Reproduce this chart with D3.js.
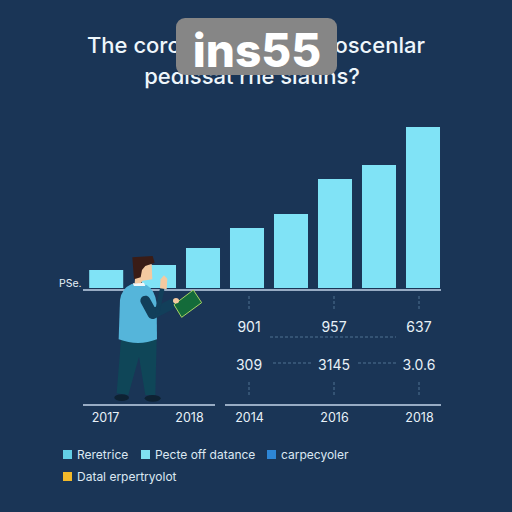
<!DOCTYPE html>
<html>
<head>
<meta charset="utf-8">
<script src="https://cdn.jsdelivr.net/npm/d3@7"></script>
<style>
  html, body { margin: 0; padding: 0; background: #1a3556; }
  svg { display: block; font-family: "Inter", "Open Sans", sans-serif; }
</style>
</head>
<body>
<svg width="512" height="512"></svg>
<script>
// values
var titleStart = "The corc";
var titleEnd = "noscenlar";
var titleLine2 = "pedissat rhe siatins?";
var barPeriods = [0.8, 2, 3, 4, 5, 6, 7, 8];
var barValues = [18, 23, 40, 60, 74, 109, 123, 161];
var leftYears = ["2017", "2018"];
var rightYears = ["2014", "2016", "2018"];
var readingsTop = ["901", "957", "637"];
var readingsBottom = ["309", "3145", "3.0.6"];
var legendRow1 = ["Reretrice", "Pecte off datance", "carpecyoler"];
var legendRow2 = ["Datal erpertryolot"];
var legendColors1 = ["#62cfe6", "#7fe0f2", "#2d86d6"];
var legendColors2 = ["#f2b92a"];

var svg = d3.select("svg");
var lineColor = "#c3d5ea", textColor = "#e8f1f8";

var x = d3.scaleLinear().domain([1, 9]).range([115, 467]);
var y = d3.scaleLinear().domain([0, 161]).range([288, 127]);
var barWidth = (x(2) - x(1)) * 0.773;
var xLeft = d3.scalePoint().domain(leftYears).range([105, 189]);
var xRight = d3.scalePoint().domain(rightYears).range([249, 419]);

// title, the middle of the first line sits behind the watermark
function titleText(str, px, py, anchor) {
    svg.append("text")
        .attr("x", px).attr("y", py)
        .attr("text-anchor", anchor)
        .attr("font-size", 22)
        .attr("font-weight", 500)
        .attr("fill", "#eef6fb")
        .text(str);
}
titleText(titleStart, 87, 53, "start");
titleText(titleEnd, 425, 53, "end");
titleText(titleLine2, 252, 84, "middle");

// bars
svg.selectAll(".bar")
    .data(barValues)
    .enter().append("rect")
    .attr("class", "bar")
    .attr("x", function(d, i) { return x(barPeriods[i]) - barWidth / 2; })
    .attr("y", function(d) { return y(d); })
    .attr("width", barWidth)
    .attr("height", function(d) { return y(0) - y(d); })
    .attr("fill", "#80e3f6");

// upper baseline and left label
svg.append("line")
    .attr("x1", 83).attr("x2", 441).attr("y1", 290).attr("y2", 290)
    .attr("stroke", lineColor).attr("stroke-width", 1.5);
svg.append("text")
    .attr("x", 59).attr("y", 287)
    .attr("font-size", 10.5)
    .attr("fill", textColor)
    .text("PSe.");

// lower axis, two pieces
function drawAxis(scale, x1, x2) {
    var g = svg.append("g").attr("transform", "translate(0,405)");
    g.call(d3.axisBottom(scale).tickSize(0).tickPadding(8));
    g.select(".domain").remove();
    g.selectAll("text")
        .attr("font-size", 12.5)
        .attr("font-family", "Inter, 'Open Sans', sans-serif")
        .attr("fill", textColor);
    g.append("line")
        .attr("x1", x1).attr("x2", x2)
        .attr("stroke", lineColor).attr("stroke-width", 1.5);
}
drawAxis(xLeft, 83, 215);
drawAxis(xRight, 225, 441);

// dashed guides
var dash = "#4f7391";
rightYears.forEach(function(d) {
    [[296, 310], [382, 395]].forEach(function(span) {
        svg.append("line")
            .attr("x1", xRight(d)).attr("x2", xRight(d))
            .attr("y1", span[0]).attr("y2", span[1])
            .attr("stroke", dash).attr("stroke-dasharray", "3,2");
    });
});
[[270, 396, 337], [273, 312, 363], [358, 396, 363]].forEach(function(s) {
    svg.append("line")
        .attr("x1", s[0]).attr("x2", s[1]).attr("y1", s[2]).attr("y2", s[2])
        .attr("stroke", dash).attr("stroke-dasharray", "3,2");
});

// readings
[[readingsTop, 332], [readingsBottom, 370]].forEach(function(row) {
    svg.selectAll(null)
        .data(row[0])
        .enter().append("text")
        .attr("x", function(d, i) { return xRight(rightYears[i]); })
        .attr("y", row[1])
        .attr("text-anchor", "middle")
        .attr("font-size", 14)
        .attr("fill", textColor)
        .text(function(d) { return d; });
});

// legend
function drawLegend(labels, colors, xs, rowY) {
    labels.forEach(function(d, i) {
        svg.append("rect")
            .attr("x", xs[i]).attr("y", rowY)
            .attr("width", 9).attr("height", 9)
            .attr("fill", colors[i]);
        svg.append("text")
            .attr("x", xs[i] + 14).attr("y", rowY + 9)
            .attr("font-size", 12)
            .attr("fill", "#dce8f2")
            .text(d);
    });
}
drawLegend(legendRow1, legendColors1, [63, 141, 267], 450);
drawLegend(legendRow2, legendColors2, [63], 472);

// person, drawn in zoomed coordinates
var man = svg.append("g").attr("transform", "translate(40,240) scale(0.3333)");
man.append("path").attr("fill", "#0f4658")
    .attr("d", "M243,300 L350,300 L346,465 L316,465 L297,350 L265,465 L230,460 Z");
man.append("ellipse").attr("cx", 245).attr("cy", 473).attr("rx", 22).attr("ry", 10).attr("fill", "#0e2233");
man.append("ellipse").attr("cx", 338).attr("cy", 475).attr("rx", 24).attr("ry", 10).attr("fill", "#0e2233");
man.append("path").attr("fill", "#55b5da")
    .attr("d", "M275,132 Q245,145 240,180 L236,298 Q295,320 351,298 L350,190 Q345,150 320,135 Z");
man.append("path").attr("fill", "#f0f6f8")
    .attr("d", "M278,130 L312,128 L316,138 L282,138 Z");
man.append("path").attr("fill", "none").attr("stroke", "#123f5a")
    .attr("stroke-width", 30).attr("stroke-linecap", "round").attr("stroke-linejoin", "round")
    .attr("d", "M316,182 L338,222 L396,192");
man.append("path").attr("fill", "none").attr("stroke", "#123f5a")
    .attr("stroke-width", 14).attr("stroke-linecap", "round")
    .attr("d", "M352,215 L366,150");
man.append("path").attr("fill", "#f4c9a0")
    .attr("d", "M360,145 L362,118 L372,106 L382,116 L380,148 Z");
man.append("path").attr("fill", "#f4c9a0")
    .attr("d", "M302,75 L335,72 L337,118 L308,122 L302,130 L284,130 L286,105 Z");
man.append("path").attr("fill", "#3a1c16")
    .attr("d", "M277,52 L338,48 L344,68 L316,78 L306,90 L302,112 L282,118 Z");
man.append("path").attr("fill", "#146b3a").attr("stroke", "#a9d463").attr("stroke-width", 3)
    .attr("d", "M402,194 L460,150 L485,188 L425,232 Z");
man.append("ellipse").attr("cx", 408).attr("cy", 182).attr("rx", 9).attr("ry", 8).attr("fill", "#f4c9a0");

// watermark over the title
svg.append("rect")
    .attr("x", 176).attr("y", 18).attr("width", 161).attr("height", 57).attr("rx", 9)
    .attr("fill", "#868686");
svg.append("text")
    .attr("x", 257).attr("y", 67)
    .attr("text-anchor", "middle")
    .attr("font-family", "Inter, sans-serif")
    .attr("font-size", 46)
    .attr("font-weight", 800)
    .attr("fill", "#ffffff")
    .text("ins55");
</script>
</body>
</html>
